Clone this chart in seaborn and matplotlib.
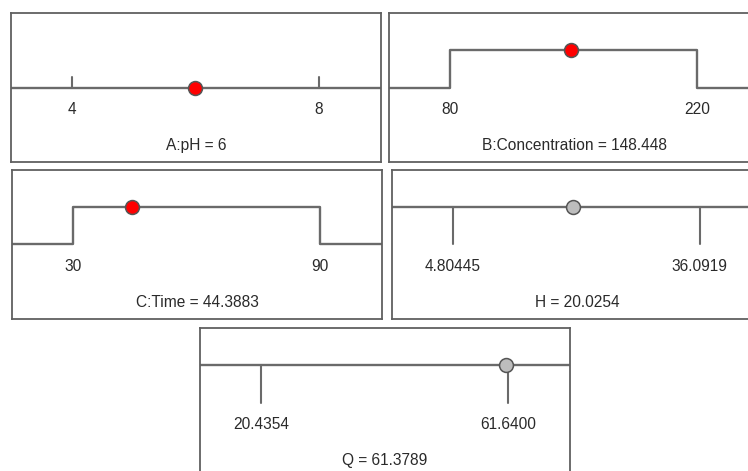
import numpy as np
import pandas as pd
from matplotlib import pyplot as plt
import seaborn as sns

sns.set_theme(style='white')
plt.rcParams['font.family'] = ['Liberation Sans', 'DejaVu Sans']

# desirability ramps: factors and responses
names = ['A:pH', 'B:Concentration', 'C:Time', 'H', 'Q']
lows = [4, 80, 30, 4.80445, 20.4354]
highs = [8, 220, 90, 36.0919, 61.6400]
low_labels = ['4', '80', '30', '4.80445', '20.4354']
high_labels = ['8', '220', '90', '36.0919', '61.6400']
current = [6, 148.448, 44.3883, 20.0254, 61.3789]
current_labels = ['6', '148.448', '44.3883', '20.0254', '61.3789']
kinds = ['flat', 'range', 'range', 'response', 'response']

# panel boxes in pixels (left, top)
boxes = [(11, 13), (389, 13), (12, 170), (392, 170), (200, 328)]
W, H = 748, 471
bw, bh = 370, 149
f_lo, f_hi = 0.165, 0.832

line_c = '#6a6a6a'
txt_c = '#2a2a2a'
fig = plt.figure(figsize=(W / 100, H / 100), dpi=100)

for i, name in enumerate(names):
    left, top = boxes[i]
    ax = fig.add_axes([left / W, 1 - (top + bh) / H, bw / W, bh / H])
    lo, hi = lows[i], highs[i]
    span = (hi - lo) / (f_hi - f_lo)
    x0 = lo - f_lo * span
    x1 = x0 + span
    ax.set_xlim(x0, x1)
    ax.set_ylim(-2, 2)

    kind = kinds[i]
    if kind == 'flat':
        df = pd.DataFrame({'x': [x0, x1], 'y': [0, 0]})
        sns.lineplot(data=df, x='x', y='y', ax=ax, color=line_c, lw=1.7,
                     sort=False, estimator=None)
        for v in (lo, hi):
            ax.plot([v, v], [0, 0.28], color=line_c, lw=1.5)
        dot_y, face = 0, '#ff0000'
    elif kind == 'range':
        df = pd.DataFrame({'x': [x0, lo, lo, hi, hi, x1],
                           'y': [0, 0, 1, 1, 0, 0]})
        sns.lineplot(data=df, x='x', y='y', ax=ax, color=line_c, lw=1.7,
                     sort=False, estimator=None)
        dot_y, face = 1, '#ff0000'
    else:
        df = pd.DataFrame({'x': [x0, x1], 'y': [1, 1]})
        sns.lineplot(data=df, x='x', y='y', ax=ax, color=line_c, lw=1.7,
                     sort=False, estimator=None)
        for v in (lo, hi):
            ax.plot([v, v], [1, 0], color=line_c, lw=1.5)
        dot_y, face = 1, '#bdbdbd'

    sns.scatterplot(x=[current[i]], y=[dot_y], ax=ax, s=100, color=face,
                    edgecolor='#555555', linewidth=1.1, zorder=5)

    ax.text(lo, -0.58, low_labels[i], ha='center', va='center', fontsize=11.2,
            color=txt_c)
    ax.text(hi, -0.58, high_labels[i], ha='center', va='center', fontsize=11.2,
            color=txt_c)
    ax.text((x0 + x1) / 2, -1.55, f'{name} = {current_labels[i]}',
            ha='center', va='center', fontsize=11.2, color=txt_c)

    ax.set_xticks([])
    ax.set_yticks([])
    ax.set_xlabel('')
    ax.set_ylabel('')
    for sp in ax.spines.values():
        sp.set_color('#606060')
        sp.set_linewidth(1.3)
        sp.set_visible(True)

fig.savefig('out.png', dpi=100)
